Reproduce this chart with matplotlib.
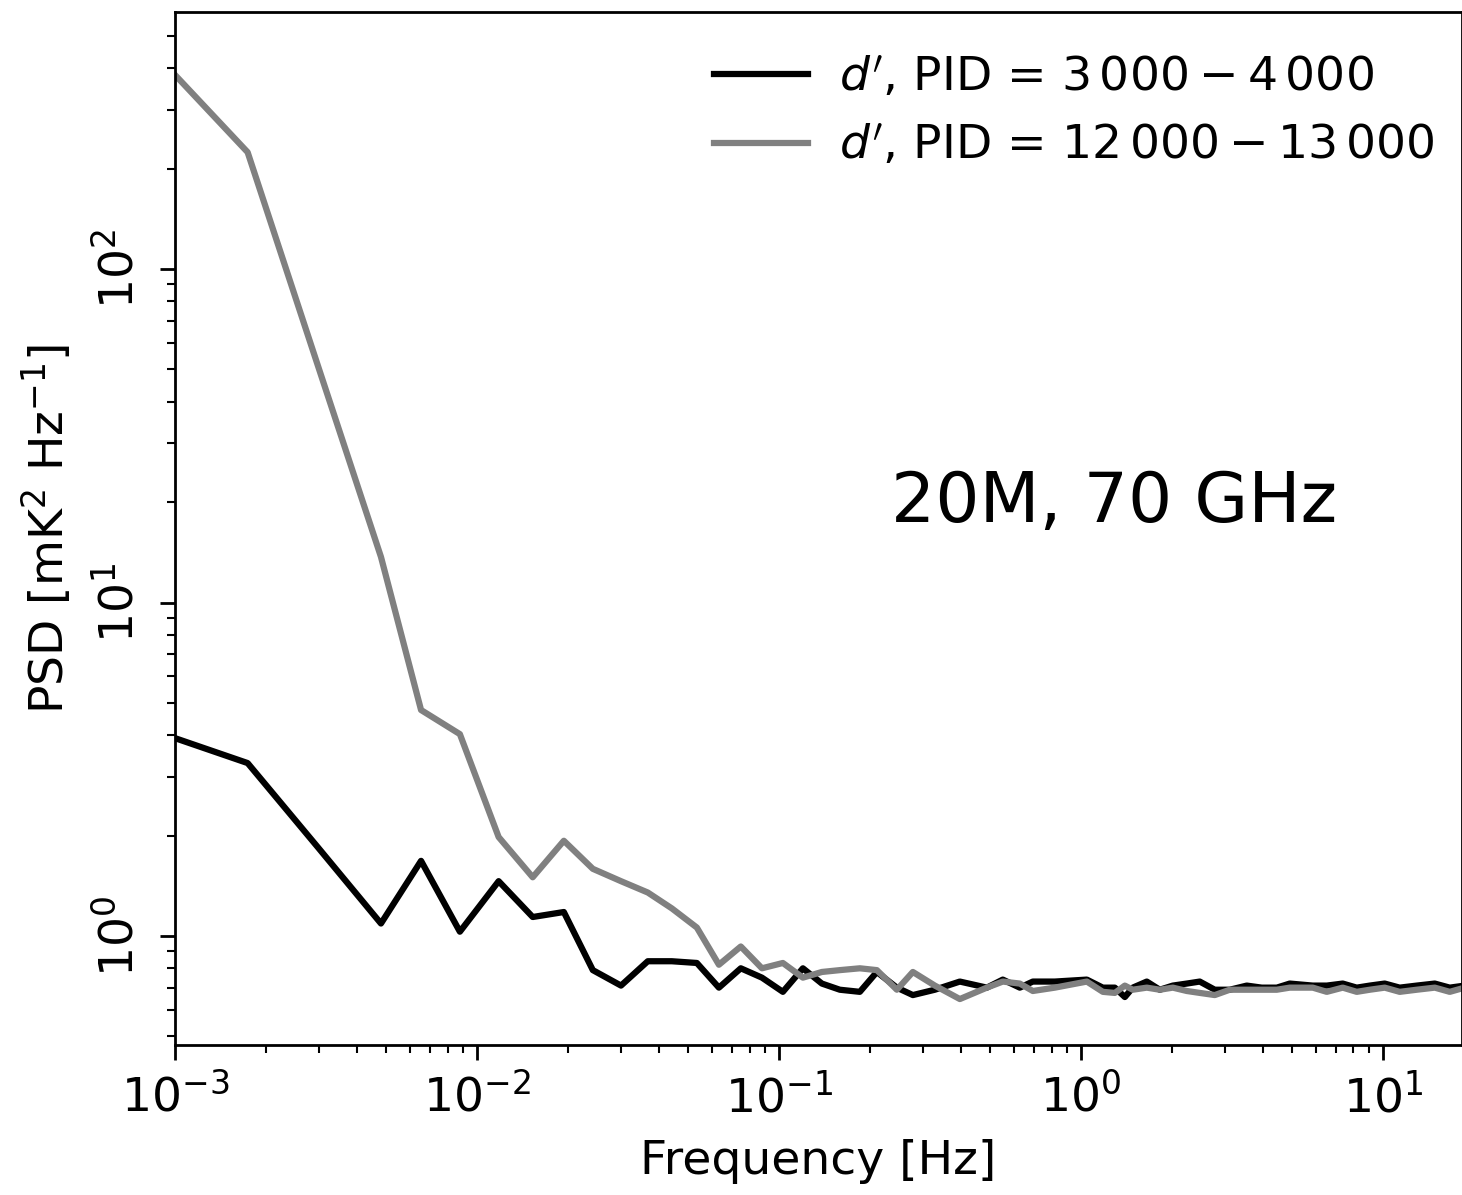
import numpy as np
import matplotlib.pyplot as plt

# frequency bins [Hz]
freq = [0.001, 0.00174, 0.00298, 0.00481, 0.00653, 0.00878, 0.0118, 0.0153,
        0.0194, 0.0242, 0.0300, 0.0368, 0.0442, 0.0535, 0.0633, 0.0748,
        0.0879, 0.1031, 0.1201, 0.1388, 0.1592, 0.1854, 0.2111, 0.2459,
        0.2778, 0.3285, 0.3975, 0.4884, 0.5516, 0.628, 0.6935, 0.8203,
        1.047, 1.183, 1.296, 1.399, 1.486, 1.654, 1.826, 2.017, 2.244,
        2.477, 2.778, 3.114, 3.545, 3.975, 4.457, 4.92, 5.864, 6.526,
        7.37, 8.20, 9.06, 10.15, 11.38, 12.96, 14.87, 16.67, 18.68]

# PSD [mK^2 Hz^-1], PID 3000-4000
psd_early = [3.92, 3.30, 1.84, 1.09, 1.68, 1.03, 1.46, 1.14,
             1.18, 0.79, 0.71, 0.84, 0.84, 0.83, 0.70, 0.80,
             0.75, 0.68, 0.80, 0.72, 0.69, 0.68, 0.78, 0.70,
             0.665, 0.69, 0.73, 0.70, 0.74, 0.70, 0.73, 0.73,
             0.74, 0.70, 0.70, 0.656, 0.70, 0.73, 0.69, 0.71, 0.72,
             0.73, 0.69, 0.69, 0.71, 0.70, 0.70, 0.72, 0.71, 0.71,
             0.72, 0.70, 0.71, 0.72, 0.70, 0.71, 0.72, 0.70, 0.71]

# PSD [mK^2 Hz^-1], PID 12000-13000
psd_late = [382, 224, 51, 13.7, 4.76, 4.03, 1.98, 1.50,
            1.93, 1.59, 1.46, 1.35, 1.21, 1.06, 0.82, 0.93,
            0.80, 0.83, 0.75, 0.78, 0.79, 0.80, 0.79, 0.69,
            0.78, 0.71, 0.647, 0.70, 0.73, 0.72, 0.684, 0.70,
            0.73, 0.68, 0.675, 0.71, 0.69, 0.70, 0.69, 0.70, 0.684,
            0.675, 0.665, 0.69, 0.69, 0.69, 0.69, 0.70, 0.70, 0.68,
            0.70, 0.68, 0.69, 0.70, 0.68, 0.69, 0.70, 0.68, 0.70]

labels = [r"$d'$, PID = $3\,000 - 4\,000$",
          r"$d'$, PID = $12\,000 - 13\,000$"]

fs = 34
fig = plt.figure(figsize=(14.62, 11.95), dpi=100)
ax = fig.add_axes([0.1197, 0.1255, 0.8803, 0.8645])

ax.plot(freq, psd_early, color='black', lw=4.5, label=labels[0])
ax.plot(freq, psd_late, color='gray', lw=4.5, label=labels[1])

ax.set_xscale('log')
ax.set_yscale('log')
ax.set_xlim(1e-3, 18.3)
ax.set_ylim(0.471, 590)

ax.set_xlabel('Frequency [Hz]', fontsize=fs, labelpad=12)
ax.set_ylabel(r'PSD [mK$^2$ Hz$^{-1}$]', fontsize=fs, labelpad=16)

ax.tick_params(which='major', length=11, width=2, labelsize=fs)
ax.tick_params(axis='x', which='major', pad=10)
ax.tick_params(axis='y', which='major', pad=12)
ax.tick_params(which='minor', length=6, width=1.5)
for lbl in ax.get_yticklabels():
    lbl.set_rotation(90)
    lbl.set_va('center')
for sp in ax.spines.values():
    sp.set_linewidth(2)

ax.text(0.73, 0.525, '20M, 70 GHz', transform=ax.transAxes,
        fontsize=50, ha='center', va='center')

ax.legend(loc='upper right', bbox_to_anchor=(1.0, 0.985), frameon=False,
          fontsize=fs, borderaxespad=0.2, handletextpad=0.65)

fig.savefig('out.png', dpi=100)
